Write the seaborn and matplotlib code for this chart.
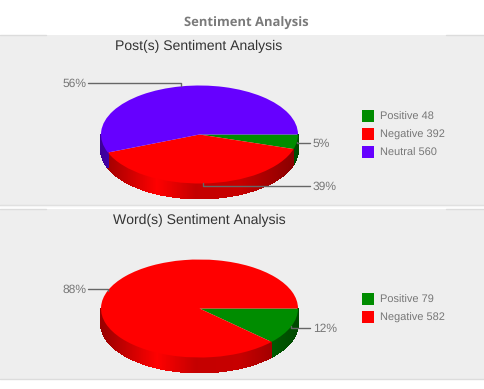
import numpy as np
import seaborn as sns
import matplotlib
matplotlib.use('Agg')
import matplotlib.pyplot as plt
from matplotlib.patches import Rectangle, Polygon

post_labels = ['Positive', 'Negative', 'Neutral']
post_values = [48, 392, 560]
word_labels = ['Positive', 'Negative']
word_values = [79, 582]

GREEN, RED, PURPLE = sns.color_palette(['#008c00', '#ff0000', '#6600ff'])
post_colors = [GREEN, RED, PURPLE]
word_colors = [GREEN, RED]

W, H = 485, 389
RX, RY, DEPTH = 98.5, 49, 15

sns.set_theme(style='white')
plt.rcParams['font.family'] = ['Liberation Sans', 'DejaVu Sans']
plt.rcParams['text.hinting'] = 'no_hinting'
plt.rcParams['text.hinting_factor'] = 1

fig = plt.figure(figsize=(W / 100, H / 100), dpi=100, facecolor='white')
base = fig.add_axes([0, 0, 1, 1])
base.set_xlim(0, W)
base.set_ylim(H, 0)
base.axis('off')


def draw_panel(top, bottom):
    base.add_patch(Rectangle((0, top), W, bottom - top, color='#eeeeee', lw=0, zorder=0))
    # lines above and below the panel are darker at the edges
    base.plot([0, 46], [top, top], color='#dcdcdc', lw=1, zorder=1)
    base.plot([446, W], [top, top], color='#dcdcdc', lw=1, zorder=1)
    base.plot([0, W], [bottom, bottom], color='#dcdcdc', lw=1, zorder=1)


def side_wall(ax, start, end, color):
    # side of the pie, only the front half can be seen
    a0, a1 = max(start, 0), min(end, 180)
    if a1 <= a0:
        return
    steps = np.radians(np.linspace(a0, a1, int(a1 - a0) * 2 + 2))
    depth = DEPTH / RY
    for t0, t1 in zip(steps[:-1], steps[1:]):
        x = np.cos((t0 + t1) / 2)
        shade = np.interp(x, [-1, -0.44, -0.05, 0.4, 1], [0.6, 1.0, 0.77, 0.78, 0.52])
        c = tuple(v * shade for v in color)
        xs = [np.cos(t0), np.cos(t1), np.cos(t1), np.cos(t0)]
        ys = [-np.sin(t0), -np.sin(t1), -np.sin(t1) - depth, -np.sin(t0) - depth]
        ax.add_patch(Polygon(np.column_stack([xs, ys]), facecolor=c, edgecolor=c, lw=0.6,
                             antialiased=False, zorder=0.5))


def draw_pie(values, labels, colors, cx, cy, title, title_y, legend_y, leaders):
    # full figure axes, limits chosen so that the unit circle lands on the ellipse
    ax = fig.add_axes([0, 0, 1, 1])
    ax.pie(values, colors=colors, startangle=0, counterclock=False, radius=1,
           wedgeprops={'linewidth': 0})
    ax.set_aspect('auto')
    ax.set_xlim((0 - cx) / RX, (W - cx) / RX)
    ax.set_ylim((cy - H) / RY, cy / RY)
    ax.patch.set_alpha(0)

    total = sum(values)
    angle = 0
    for i, v in enumerate(values):
        sweep = v / total * 360
        side_wall(ax, angle, angle + sweep, colors[i])
        mid = np.radians(angle + sweep / 2)
        px = cx + RX * np.cos(mid)
        py = cy + RY * np.sin(mid)
        pct = f'{round(v / total * 100)}%'
        elbow_y, end_x, text_x, ha = leaders[i]
        top_layer.plot([px, px, end_x], [py, elbow_y, elbow_y], color='#666666', lw=1, zorder=5)
        top_layer.text(text_x, elbow_y + 0.7, pct, ha=ha, va='center', fontsize=8.3, color='#777777')
        angle += sweep

    base.text(cx - 0.5, title_y, title, ha='center', va='center', fontsize=10.1, color='#333333')
    for i, lab in enumerate(labels):
        y = legend_y + i * 18
        base.add_patch(Rectangle((362, y), 12, 12, color=colors[i], lw=0, zorder=3))
        base.text(380, y + 6.7, f'{lab} {values[i]}', va='center', fontsize=7.9, color='#777777')


draw_panel(35, 205)
draw_panel(209, 379)
base.plot([0, W], [206, 206], color='#f4f4f4', lw=1, zorder=1)
base.text(246, 23, 'Sentiment Analysis', ha='center', va='center', fontsize=9.4,
          fontweight='bold', family='Open Sans', color='#7a7a7a')

# leader lines and % labels sit above the pies
top_layer = fig.add_axes([0, 0, 1, 1], zorder=10)
top_layer.set_xlim(0, W)
top_layer.set_ylim(H, 0)
top_layer.axis('off')

draw_pie(post_values, post_labels, post_colors, 199.5, 134.5, 'Post(s) Sentiment Analysis', 46.5, 110,
         [(143, 310, 313, 'left'), (186, 310, 313, 'left'), (83, 88, 87, 'right')])
draw_pie(word_values, word_labels, word_colors, 199.5, 308.5, "Word(s) Sentiment Analysis", 220.5, 293,
         [(328, 310, 313, 'left'), (289, 88, 87, 'right')])

plt.savefig('out.png', dpi=100)
plt.close()
